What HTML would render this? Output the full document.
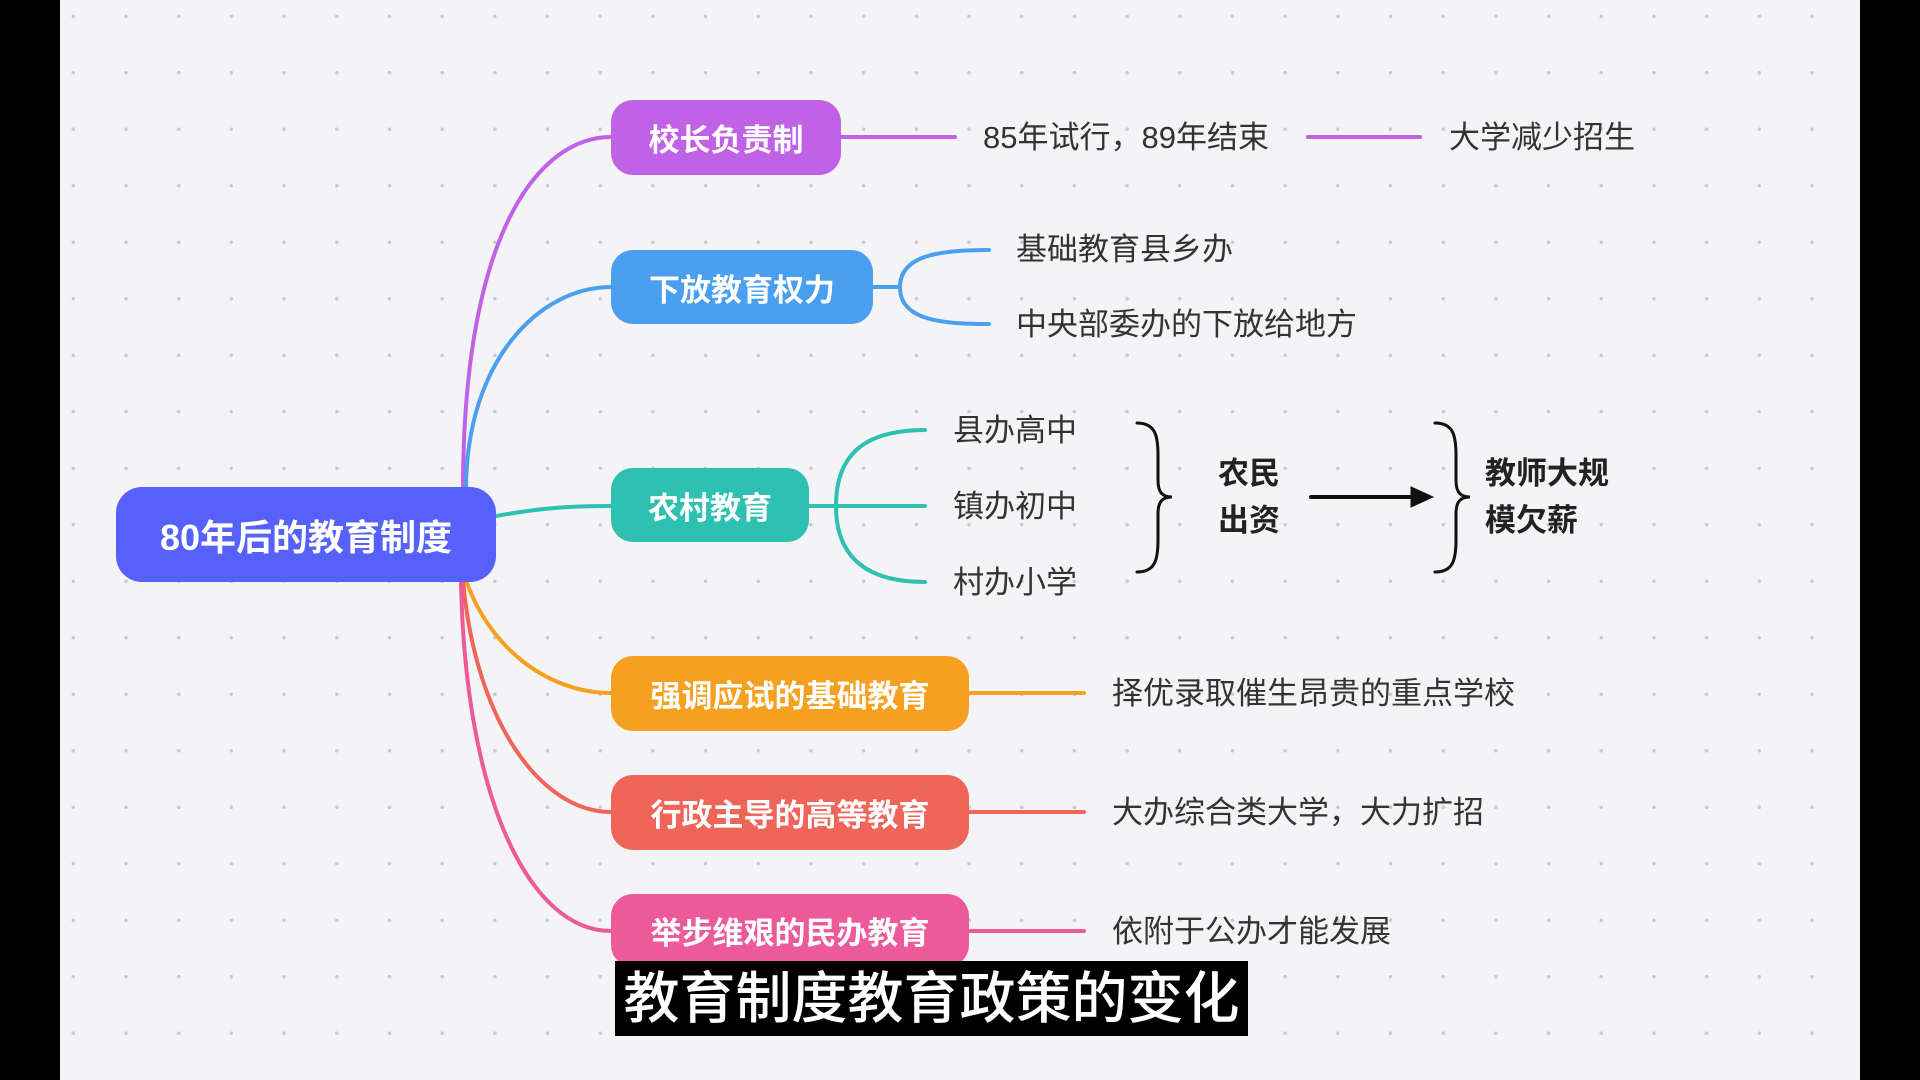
<!DOCTYPE html>
<html><head><meta charset="utf-8"><style>
html,body{margin:0;padding:0;width:1920px;height:1080px;overflow:hidden;background:#000;}
#c{position:absolute;left:60px;top:0;width:1800px;height:1080px;background-color:#f4f4f6;
background-image:radial-gradient(circle,#c9c9cf 1.6px,transparent 2px);background-size:52.7px 56.5px;background-position:-13px -12px;}
.n{position:absolute;color:#fff;font-family:"Liberation Sans","Noto Sans CJK SC",sans-serif;font-size:31px;font-weight:bold;display:flex;align-items:center;justify-content:center;border-radius:22px;}
.t{position:absolute;color:#333;font-family:"Liberation Sans","Noto Sans CJK SC",sans-serif;font-size:31px;line-height:36px;white-space:nowrap;}
.b{font-weight:bold;color:#222;line-height:47px;}
svg{position:absolute;left:0;top:0;}
</style></head><body>
<div id="c"></div>
<svg width="1920" height="1080" fill="none" stroke-width="4" stroke-linecap="round">
<path d="M463,490 C463,230 540,137 611,137" stroke="#c062e6"/>
<path d="M466,490 C466,360 540,287 611,287" stroke="#4a9ff0"/>
<path d="M496,516 C540,508 570,506 611,506" stroke="#2ec0b0"/>
<path d="M466,580 C490,650 550,693 611,693" stroke="#f5a020"/>
<path d="M463,580 C475,720 540,812 611,812" stroke="#f0655a"/>
<path d="M461,580 C465,800 530,931 611,931" stroke="#ec5a9a"/>
<path d="M841,137 H955 M1308,137 H1420" stroke="#c062e6"/>
<path d="M873,287 H900 M900,287 C900,255 940,250 989,250 M900,287 C900,320 940,324 989,324" stroke="#4a9ff0"/>
<path d="M809,506 H925 M836,506 C836,450 870,430 925,430 M836,506 C836,560 870,582 925,582" stroke="#2ec0b0"/>
<path d="M969,693 H1084" stroke="#f5a020"/>
<path d="M969,812 H1084" stroke="#f0655a"/>
<path d="M969,931 H1084" stroke="#ec5a9a"/>
<path d="M1137,423 C1155,423 1158,435 1158,455 L1158,480 C1158,492 1162,497 1172,497 C1162,497 1158,502 1158,514 L1158,540 C1158,560 1155,572 1137,572" stroke="#111" stroke-width="3"/>
<path d="M1435,423 C1453,423 1456,435 1456,455 L1456,480 C1456,492 1460,497 1470,497 C1460,497 1456,502 1456,514 L1456,540 C1456,560 1453,572 1435,572" stroke="#111" stroke-width="3"/>
<path d="M1311,497 H1415" stroke="#111" stroke-width="4"/>
<path d="M1411,487 L1433,497 L1411,507 Z" fill="#111" stroke="#111" stroke-width="1"/>
</svg>
<div class="n" style="left:116px;top:487px;width:380px;height:95px;background:#5561f8;font-size:36px;border-radius:26px">80年后的教育制度</div>
<div class="n" style="left:611px;top:100px;width:230px;height:75px;background:#c062e6">校长负责制</div>
<div class="n" style="left:611px;top:250px;width:262px;height:74px;background:#4a9ff0">下放教育权力</div>
<div class="n" style="left:611px;top:468px;width:198px;height:74px;background:#2ec0b0">农村教育</div>
<div class="n" style="left:611px;top:656px;width:358px;height:75px;background:#f5a020">强调应试的基础教育</div>
<div class="n" style="left:611px;top:775px;width:358px;height:75px;background:#f0655a">行政主导的高等教育</div>
<div class="n" style="left:611px;top:894px;width:358px;height:73px;background:#ec5a9a">举步维艰的民办教育</div>
<div class="t" style="left:983px;top:120px">85年试行，89年结束</div>
<div class="t" style="left:1449px;top:120px">大学减少招生</div>
<div class="t" style="left:1016px;top:232px">基础教育县乡办</div>
<div class="t" style="left:1016px;top:307px">中央部委办的下放给地方</div>
<div class="t" style="left:953px;top:413px">县办高中</div>
<div class="t" style="left:953px;top:489px">镇办初中</div>
<div class="t" style="left:953px;top:565px">村办小学</div>
<div class="t b" style="left:1218px;top:450px">农民<br>出资</div>
<div class="t b" style="left:1485px;top:450px">教师大规<br>模欠薪</div>
<div class="t" style="left:1112px;top:676px">择优录取催生昂贵的重点学校</div>
<div class="t" style="left:1112px;top:795px">大办综合类大学，大力扩招</div>
<div class="t" style="left:1112px;top:914px">依附于公办才能发展</div>
<div style="position:absolute;left:615px;top:961px;width:633px;height:75px;background:#000;color:#fff;font-family:'Liberation Sans','Noto Sans CJK SC',sans-serif;font-size:56px;line-height:75px;text-align:center;font-weight:500">教育制度教育政策的变化</div>
</body></html>
